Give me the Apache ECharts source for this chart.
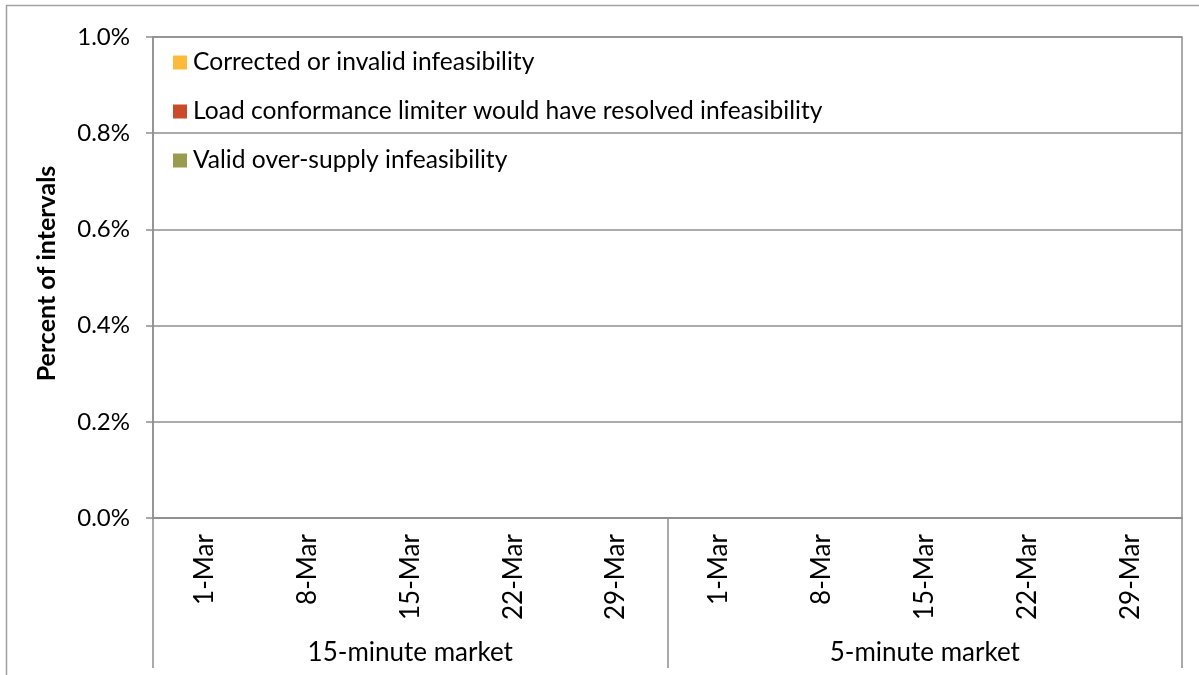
<!DOCTYPE html>
<html>
<head>
<meta charset="utf-8">
<script src="https://cdn.jsdelivr.net/npm/echarts@6/dist/echarts.min.js"></script>
<style>
  html, body { margin: 0; padding: 0; background: #fff; }
  #chart { width: 1199px; height: 675px; }
</style>
</head>
<body>
<div id="chart"></div>
<script>
// 每组的日期类别（35 天）
const dayLabels = [
  '26-Feb', '27-Feb', '28-Feb',
  '1-Mar', '2-Mar', '3-Mar', '4-Mar', '5-Mar', '6-Mar', '7-Mar',
  '8-Mar', '9-Mar', '10-Mar', '11-Mar', '12-Mar', '13-Mar', '14-Mar',
  '15-Mar', '16-Mar', '17-Mar', '18-Mar', '19-Mar', '20-Mar', '21-Mar',
  '22-Mar', '23-Mar', '24-Mar', '25-Mar', '26-Mar', '27-Mar', '28-Mar',
  '29-Mar', '30-Mar', '31-Mar', '1-Apr'
];
const shownLabels = ['1-Mar', '8-Mar', '15-Mar', '22-Mar', '29-Mar'];
const markets = ['15-minute market', '5-minute market'];
const seriesNames = [
  'Corrected or invalid infeasibility',
  'Load conformance limiter would have resolved infeasibility',
  'Valid over-supply infeasibility'
];
const yTicks = [0, 0.2, 0.4, 0.6, 0.8, 1.0];

// 数值（百分比），图中全部为 0
const corrected15 = [0,0,0,0,0,0,0,0,0,0,0,0,0,0,0,0,0,0,0,0,0,0,0,0,0,0,0,0,0,0,0,0,0,0,0];
const corrected5  = [0,0,0,0,0,0,0,0,0,0,0,0,0,0,0,0,0,0,0,0,0,0,0,0,0,0,0,0,0,0,0,0,0,0,0];
const limiter15   = [0,0,0,0,0,0,0,0,0,0,0,0,0,0,0,0,0,0,0,0,0,0,0,0,0,0,0,0,0,0,0,0,0,0,0];
const limiter5    = [0,0,0,0,0,0,0,0,0,0,0,0,0,0,0,0,0,0,0,0,0,0,0,0,0,0,0,0,0,0,0,0,0,0,0];
const valid15     = [0,0,0,0,0,0,0,0,0,0,0,0,0,0,0,0,0,0,0,0,0,0,0,0,0,0,0,0,0,0,0,0,0,0,0];
const valid5      = [0,0,0,0,0,0,0,0,0,0,0,0,0,0,0,0,0,0,0,0,0,0,0,0,0,0,0,0,0,0,0,0,0,0,0];

const colors = ['#FDB93A', '#CB4A2A', '#9B9B4F'];
const lineGrey = '#8f8f8f';
const FONT = 'Lato, "Liberation Sans", sans-serif';

const categories = dayLabels.concat(dayLabels);
const seriesData = [
  corrected15.concat(corrected5),
  limiter15.concat(limiter5),
  valid15.concat(valid5)
];

const chart = echarts.init(document.getElementById('chart'), null, {renderer: 'canvas'});

chart.setOption({
  backgroundColor: '#fff',
  animation: false,
  textStyle: {fontFamily: FONT, color: '#000'},
  grid: {
    left: 153, right: 17, top: 37, bottom: 157,
    show: true, borderColor: lineGrey, borderWidth: 1.5, backgroundColor: 'transparent'
  },
  legend: {
    orient: 'vertical',
    left: 168, top: 45,
    itemWidth: 14, itemHeight: 14, itemGap: 24,
    icon: 'rect',
    selectedMode: false,
    textStyle: {fontFamily: FONT, fontSize: 24.6, color: '#000', lineHeight: 24, padding: [0, 0, 0, 1]},
    data: seriesNames
  },
  xAxis: [
    {
      type: 'category',
      data: categories,
      position: 'bottom',
      axisLine: {show: true, lineStyle: {color: lineGrey, width: 1.5}},
      axisTick: {show: false},
      axisLabel: {
        rotate: 90,
        margin: 16,
        fontFamily: FONT,
        fontSize: 26,
        color: '#000',
        interval: function (idx, value) { return shownLabels.indexOf(value) >= 0; }
      },
      splitLine: {show: false}
    },
    {
      type: 'category',
      data: markets,
      position: 'bottom',
      offset: 0,
      axisLine: {show: false},
      axisTick: {show: true, length: 150, lineStyle: {color: lineGrey, width: 1.5}},
      axisLabel: {margin: 122, fontFamily: FONT, fontSize: 26, color: '#000'},
      splitLine: {show: false}
    }
  ],
  yAxis: {
    type: 'value',
    min: 0, max: 1, interval: 0.2,
    name: 'Percent of intervals',
    nameLocation: 'middle',
    nameRotate: 90,
    nameGap: 94,
    nameTextStyle: {fontFamily: FONT, fontSize: 25, fontWeight: 'bold', color: '#000', padding: [0, 0, 0, 8]},
    axisLine: {show: true, lineStyle: {color: lineGrey, width: 1.5}},
    axisTick: {show: true, length: 7, lineStyle: {color: lineGrey, width: 1.5}},
    axisLabel: {
      margin: 23,
      fontFamily: FONT, fontSize: 24, color: '#000',
      formatter: function (v) { return yTicks.indexOf(+v.toFixed(1)) >= 0 ? v.toFixed(1) + '%' : ''; }
    },
    splitLine: {show: true, lineStyle: {color: lineGrey, width: 1.5}}
  },
  series: seriesNames.map(function (name, i) {
    return {
      name: name,
      type: 'bar',
      stack: 'total',
      xAxisIndex: 0,
      barCategoryGap: '20%',
      itemStyle: {color: colors[i]},
      data: seriesData[i]
    };
  }),
  graphic: [
    {
      type: 'rect',
      silent: true,
      shape: {x: 6.5, y: 5.5, width: 1220, height: 700},
      style: {fill: 'none', stroke: '#a0a0a0', lineWidth: 1.5},
      z: 100
    }
  ]
});

window.addEventListener('resize', () => chart.resize());
</script>
</body>
</html>
